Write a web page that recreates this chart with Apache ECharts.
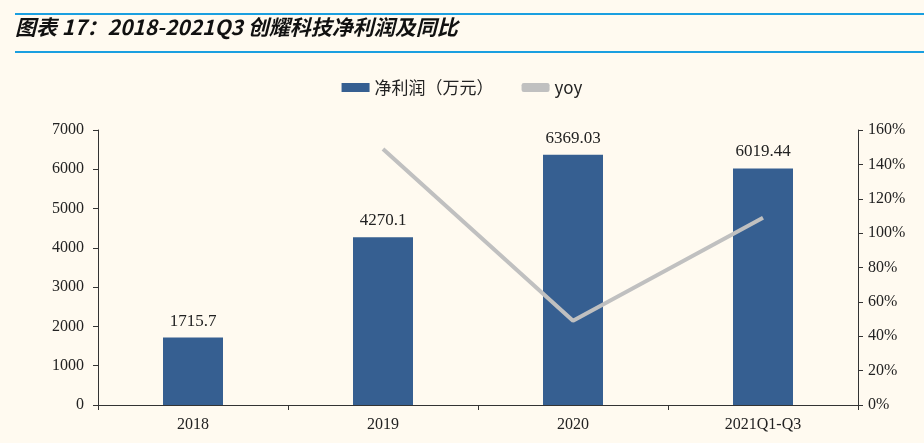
<!DOCTYPE html><html><head><meta charset="utf-8"><script src="https://cdn.jsdelivr.net/npm/echarts@6/dist/echarts.min.js"></script>
<style>html,body{margin:0;background:#fffaf0}#c{width:924px;height:443px}</style></head><body><div id="c"></div><script>
const categories=['2018','2019','2020','2021Q1-Q3'];
const profit=[1715.7,4270.1,6369.03,6019.44];
const profitLabels=['1715.7','4270.1','6369.03','6019.44'];
const yoy=[null,149,49,109];
const c=echarts.init(document.getElementById('c'));
const f='Liberation Serif';
c.setOption({backgroundColor:'#fffaf0',
graphic:[{type:'rect',shape:{x:15,y:13,width:909,height:2},style:{fill:'#1a9fe0'}},
{type:'rect',shape:{x:15,y:51,width:909,height:2},style:{fill:'#1a9fe0'}},
{type:'text',left:15,top:17,style:{text:'图表 17：2018-2021Q3 创耀科技净利润及同比',font:'italic bold 21px "Noto Sans CJK SC"',fill:'#111',letterSpacing:1}}],
legend:{top:74,left:'center',itemWidth:28,itemHeight:9,itemGap:28,textStyle:{fontFamily:'"Noto Sans CJK SC"',fontSize:17,color:'#222',letterSpacing:2},data:[{name:'净利润（万元）',icon:'rect',itemStyle:{color:'#365f91'}},{name:'yoy',icon:'roundRect',itemStyle:{color:'#c0c0c0'}}]},
grid:{left:98,right:66,top:130,bottom:38},
xAxis:{type:'category',data:categories,axisLine:{lineStyle:{color:'#333'}},axisTick:{show:true,lineStyle:{color:'#333'}},axisLabel:{color:'#222',fontFamily:f,fontSize:16,margin:12,letterSpacing:2}},
yAxis:[{type:'value',min:0,max:7000,interval:1000,splitLine:{show:false},axisLine:{show:true,lineStyle:{color:'#333'}},axisTick:{show:true},axisLabel:{color:'#222',fontFamily:f,fontSize:16,margin:14,letterSpacing:1.5,formatter:v=>String(v)}},
{type:'value',min:0,max:160,interval:20,splitLine:{show:false},axisLine:{show:true,lineStyle:{color:'#333'}},axisTick:{show:true},axisLabel:{color:'#222',fontFamily:f,fontSize:16,letterSpacing:1.5,formatter:'{value}%',margin:10}}],
series:[{name:'净利润（万元）',type:'bar',data:profit,barWidth:60,itemStyle:{color:'#365f91'},label:{show:true,position:'top',distance:8,color:'#222',fontFamily:f,fontSize:17,letterSpacing:2,formatter:p=>profitLabels[p.dataIndex]}},
{name:'yoy',type:'line',yAxisIndex:1,data:yoy,symbol:'none',lineStyle:{color:'#c0c0c0',width:4}}]});
</script></body></html>
